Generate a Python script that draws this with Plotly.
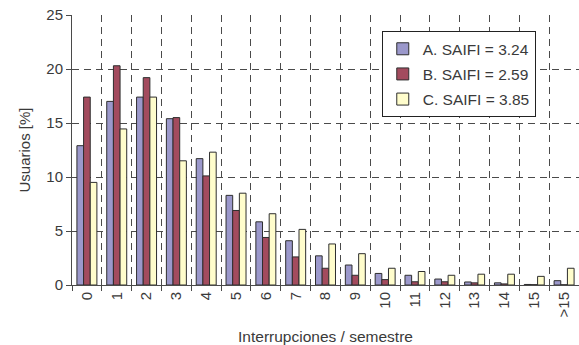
import plotly.graph_objects as go

# Interruption counts per semester (categories) and share of users per feeder
categories = ["0", "1", "2", "3", "4", "5", "6", "7", "8", "9", "10",
              "11", "12", "13", "14", "15", ">15"]

series_names = ["A. SAIFI = 3.24", "B. SAIFI = 2.59", "C. SAIFI = 3.85"]

users_a = [12.9, 17.0, 17.4, 15.4, 11.7, 8.3, 5.85, 4.1, 2.7, 1.85, 1.07,
           0.9, 0.55, 0.28, 0.2, 0.05, 0.4]
users_b = [17.4, 20.3, 19.2, 15.5, 10.1, 6.9, 4.4, 2.6, 1.55, 0.9, 0.5,
           0.3, 0.3, 0.2, 0.1, 0.03, 0.02]
users_c = [9.5, 14.45, 17.4, 11.5, 12.3, 8.5, 6.6, 5.15, 3.8, 2.9, 1.55,
           1.25, 0.9, 1.0, 1.0, 0.8, 1.55]

bar_colors = ["#9b98cb", "#a34b5e", "#fffdcc"]

y_ticks = [0, 5, 10, 15, 20, 25]

FONT = "Liberation Sans, Arial, sans-serif"
TEXT = "#3a3a3a"
GRID = "#4a4a4a"

fig = go.Figure()
for i, (name, vals) in enumerate(zip(series_names, [users_a, users_b, users_c])):
    fig.add_trace(go.Bar(
        x=categories,
        y=vals,
        name=name,
        legendgroup=name,
        marker=dict(color=bar_colors[i], line=dict(color="#2e2e2e", width=1)),
    ))

fig.update_layout(
    width=579,
    height=345,
    margin=dict(l=72, r=0, t=15, b=60),
    paper_bgcolor="white",
    plot_bgcolor="white",
    font=dict(family=FONT, size=15, color=TEXT),
    barmode="group",
    bargap=0.33,
    bargroupgap=0,
    showlegend=True,
    legend=dict(
        x=0.611, y=0.94, xanchor="left", yanchor="top",
        bgcolor="white", bordercolor="#222", borderwidth=1,
        font=dict(family=FONT, size=15.5, color=TEXT),
        tracegroupgap=2,
        itemwidth=30,
    ),
    xaxis=dict(
        type="category",
        tickson="boundaries",
        ticks="outside", ticklen=5, tickcolor=GRID,
        tickangle=-90,
        showline=True, linecolor=GRID, linewidth=1,
        showgrid=True, gridcolor=GRID, gridwidth=1, griddash="7px,5px",
        title=dict(text="Interrupciones / semestre", standoff=14,
                   font=dict(size=15.5, color=TEXT)),
        tickfont=dict(size=15, color=TEXT),
        range=[-0.5, 16.5],
    ),
    yaxis=dict(
        range=[0, 25],
        tickvals=y_ticks,
        ticks="outside", ticklen=5, tickcolor=GRID,
        showline=True, linecolor=GRID, linewidth=1,
        showgrid=True, gridcolor=GRID, gridwidth=1, griddash="7px,5px",
        zeroline=False,
        title=dict(text="Usuarios [%]", standoff=12,
                   font=dict(size=15, color=TEXT)),
        tickfont=dict(size=15, color=TEXT),
    ),
)

fig.write_html("out.html")
